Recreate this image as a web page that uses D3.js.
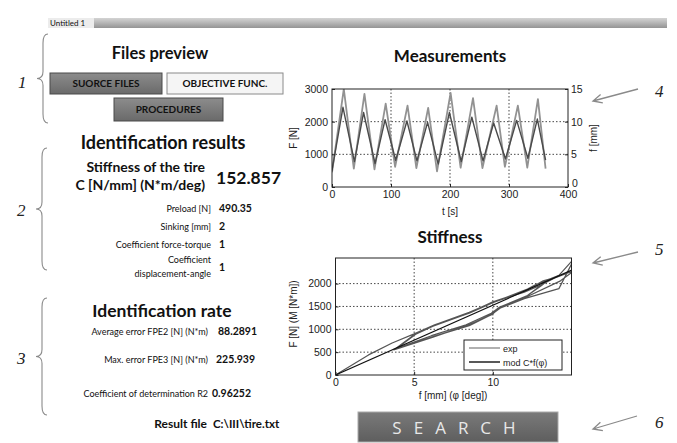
<!DOCTYPE html>
<html>
<head>
<meta charset="utf-8">
<title>Tire stiffness identification</title>
<script src="https://d3js.org/d3.v7.min.js"></script>
<style>
  body { margin: 0; background: #fff; }
  svg { display: block; }
  .ui { font-family: Lato, "Open Sans", sans-serif; fill: #111; }
  .tick text { font-family: "Liberation Sans", Arial, sans-serif; font-size: 10.5px; fill: #222; }
  .tick line { stroke: #222; }
</style>
</head>
<body>
<script>
// ---- data ----
// Measurements: force F [N] (left axis) and displacement f [mm] (right axis) vs time t [s]
var forceT = [0, 20, 37, 55, 72, 91, 107, 128, 143, 163, 178, 201, 218, 239, 255, 279, 293, 315, 331, 349, 362];
var forceF = [450, 3000, 560, 2850, 540, 2550, 620, 2490, 580, 2420, 480, 2880, 590, 2720, 580, 2490, 620, 2490, 590, 2690, 560];
var dispT = [0, 18.6, 38, 53.5, 73, 90, 108, 127, 144, 162, 180, 199, 219, 237, 256, 274, 294, 313, 332, 348, 362];
var dispF = [2.5, 12.2, 3.9, 11.4, 3.6, 10.3, 4.1, 10.1, 4.0, 9.9, 3.5, 11.4, 3.9, 10.7, 4.0, 9.8, 4.3, 10.2, 4.4, 10.4, 4.1];

// Stiffness: experimental hysteresis loops and model C*f
var expX = [0, 2.1, 3.6, 5.0, 6.3, 8.5, 10.0, 12.0, 12.9, 14.2, 15.2,
            14.2, 12.0, 10.4, 10.0, 8.5, 6.3, 3.7,
            5.0, 6.3, 8.5, 10.0, 12.1, 13.2, 13.6, 13.1, 12.0, 10.3, 10.0, 8.4, 6.2, 3.8,
            5.1, 6.4, 8.5, 10.0, 12.0, 13.0, 13.9, 15.2, 14.3, 12.1, 10.5, 9.9, 8.5, 6.3, 3.9,
            4.9, 6.2, 8.4, 10.1, 12.2, 12.8, 13.4, 12.9, 12.2, 10.4, 9.9, 8.3, 6.1, 3.7];
var expY = [0, 440, 700, 900, 1100, 1360, 1600, 1830, 2000, 2180, 2560,
            1890, 1670, 1455, 1340, 1100, 845, 550,
            880, 1090, 1350, 1580, 1850, 2060, 2100, 1960, 1690, 1460, 1330, 1090, 830, 560,
            890, 1110, 1370, 1590, 1810, 1960, 2120, 2290, 2060, 1700, 1470, 1320, 1080, 850, 570,
            860, 1070, 1340, 1600, 1880, 1990, 2040, 1920, 1740, 1480, 1350, 1100, 860, 560];
var modX = [0, 15.2];
var modY = [0, 2323];

var measXTicks = [0, 100, 200, 300, 400];
var measLTicks = [0, 1000, 2000, 3000];
var measRTicks = [0, 5, 10, 15];
var stifXTicks = [0, 5, 10];
var stifYTicks = [0, 500, 1000, 1500, 2000];

// panel texts
var buttons = ["SUORCE FILES", "OBJECTIVE FUNC.", "PROCEDURES"];
var resultLabels = ["Preload [N]", "Sinking [mm]", "Coefficient force-torque", "Coefficient\ndisplacement-angle"];
var resultValues = ["490.35", "2", "1", "1"];
var rateLabels = ["Average error FPE2 [N] (N*m)", "Max. error FPE3 [N] (N*m)", "Coefficient of determination R2"];
var rateValues = ["88.2891", "225.939", "0.96252"];
var stiffnessValue = "152.857";
var resultFile = "C:\\III\\tire.txt";

// ---- drawing ----
var svg = d3.select("body").append("svg").attr("width", 677).attr("height", 443);
var defs = svg.append("defs");

var g1 = defs.append("linearGradient").attr("id", "barGrad").attr("x1", 0).attr("x2", 0).attr("y1", 0).attr("y2", 1);
g1.append("stop").attr("offset", 0).attr("stop-color", "#d4d4d4");
g1.append("stop").attr("offset", 1).attr("stop-color", "#949494");
var g2 = defs.append("linearGradient").attr("id", "darkBtn").attr("x1", 0).attr("x2", 0).attr("y1", 0).attr("y2", 1);
g2.append("stop").attr("offset", 0).attr("stop-color", "#8c8c8c");
g2.append("stop").attr("offset", 1).attr("stop-color", "#6a6a6a");
var g3 = defs.append("linearGradient").attr("id", "searchBtn").attr("x1", 0).attr("x2", 0).attr("y1", 0).attr("y2", 1);
g3.append("stop").attr("offset", 0).attr("stop-color", "#7a7a7a");
g3.append("stop").attr("offset", 1).attr("stop-color", "#5e5e5e");

// title bar
svg.append("rect").attr("x", 48).attr("y", 18).attr("width", 619).attr("height", 10).attr("fill", "url(#barGrad)");
svg.append("rect").attr("x", 48).attr("y", 18).attr("width", 46).attr("height", 10).attr("fill", "#ececec");
svg.append("text").attr("class", "ui").attr("x", 50).attr("y", 26).attr("font-size", 8).text("Untitled 1");

// braces and section numbers
function brace(x, top, bottom) {
  var mid = (top + bottom) / 2;
  svg.append("path")
    .attr("d", "M" + (x + 5) + "," + top + " Q" + x + "," + top + " " + x + "," + (top + 9) +
      " L" + x + "," + (mid - 7) + " Q" + x + "," + mid + " " + (x - 6) + "," + mid +
      " Q" + x + "," + mid + " " + x + "," + (mid + 7) +
      " L" + x + "," + (bottom - 9) + " Q" + x + "," + bottom + " " + (x + 5) + "," + bottom)
    .attr("fill", "none").attr("stroke", "#8a8a8a").attr("stroke-width", 1.1);
}
brace(43, 34, 123); brace(42, 148, 270); brace(42, 298, 415);
function numLabel(x, y, s) {
  svg.append("text").attr("x", x).attr("y", y).attr("font-family", "Liberation Serif, serif")
    .attr("font-style", "italic").attr("font-size", 17).attr("fill", "#222").text(s);
}
numLabel(18, 88, "1"); numLabel(17, 216, "2"); numLabel(17, 364, "3");
numLabel(655, 97, "4"); numLabel(655, 255, "5"); numLabel(655, 428, "6");

// arrows
function arrow(x1, y1, x2, y2) {
  var a = Math.atan2(y2 - y1, x2 - x1), L = 10;
  svg.append("path")
    .attr("d", "M" + x1 + "," + y1 + " L" + x2 + "," + y2 +
      " M" + (x2 - L * Math.cos(a - 0.45)) + "," + (y2 - L * Math.sin(a - 0.45)) + " L" + x2 + "," + y2 +
      " L" + (x2 - L * Math.cos(a + 0.45)) + "," + (y2 - L * Math.sin(a + 0.45)))
    .attr("fill", "none").attr("stroke", "#8a8a8a").attr("stroke-width", 1.3);
}
arrow(638, 89, 593, 101); arrow(638, 252, 593, 263); arrow(637, 416, 593, 429);

// section 1: files preview
svg.append("text").attr("class", "ui").attr("x", 160).attr("y", 59).attr("text-anchor", "middle")
  .attr("font-size", 16.5).attr("font-weight", "bold").text("Files preview");
var btnBoxes = [[50, 73, 112, 21, "url(#darkBtn)"], [167, 73, 116, 21, "#f5f5f5"], [114, 98, 109, 23, "url(#darkBtn)"]];
btnBoxes.forEach(function (b, i) {
  svg.append("rect").attr("x", b[0]).attr("y", b[1]).attr("width", b[2]).attr("height", b[3])
    .attr("fill", b[4]).attr("stroke", i === 1 ? "#8a8a8a" : "#4a4a4a").attr("stroke-width", 1);
  svg.append("text").attr("class", "ui").attr("x", b[0] + b[2] / 2).attr("y", b[1] + b[3] / 2 + 3.5)
    .attr("text-anchor", "middle").attr("font-size", 10).attr("font-weight", "bold").text(buttons[i]);
});

// section 2: identification results
svg.append("text").attr("class", "ui").attr("x", 163).attr("y", 149).attr("text-anchor", "middle")
  .attr("font-size", 18).attr("font-weight", "bold").text("Identification results");
svg.append("text").attr("class", "ui").attr("x", 205).attr("y", 172).attr("text-anchor", "end")
  .attr("font-size", 14).attr("font-weight", "bold").text("Stiffness of the tire");
svg.append("text").attr("class", "ui").attr("x", 205).attr("y", 190).attr("text-anchor", "end")
  .attr("font-size", 14).attr("font-weight", "bold").text("C [N/mm] (N*m/deg)");
svg.append("text").attr("class", "ui").attr("x", 216).attr("y", 184)
  .attr("font-size", 17.5).attr("font-weight", "bold").text(stiffnessValue);
var resY = [212, 230, 248, 263];
resultLabels.forEach(function (s, i) {
  s.split("\n").forEach(function (part, j) {
    svg.append("text").attr("class", "ui").attr("x", 211).attr("y", resY[i] + j * 14)
      .attr("text-anchor", "end").attr("font-size", 9).attr("fill", "#444").text(part);
  });
  svg.append("text").attr("class", "ui").attr("x", 219).attr("y", resY[i] + (i === 3 ? 8 : 0))
    .attr("font-size", 10.5).attr("font-weight", "bold").text(resultValues[i]);
});

// section 3: identification rate
svg.append("text").attr("class", "ui").attr("x", 162).attr("y", 317).attr("text-anchor", "middle")
  .attr("font-size", 17.5).attr("font-weight", "bold").text("Identification rate");
var rateY = [335, 363, 397];
var rateX = [218, 216, 212];
rateLabels.forEach(function (s, i) {
  svg.append("text").attr("class", "ui").attr("x", 208).attr("y", rateY[i])
    .attr("text-anchor", "end").attr("font-size", 9).attr("fill", "#444").text(s);
  svg.append("text").attr("class", "ui").attr("x", rateX[i]).attr("y", rateY[i])
    .attr("font-size", 10.5).attr("font-weight", "bold").text(rateValues[i]);
});
svg.append("text").attr("class", "ui").attr("x", 207).attr("y", 428).attr("text-anchor", "end")
  .attr("font-size", 12).attr("font-weight", "bold").text("Result file");
svg.append("text").attr("class", "ui").attr("x", 213).attr("y", 428)
  .attr("font-size", 11.5).attr("font-weight", "bold").text(resultFile);

// ---- chart helpers ----
function dotted(g, x1, y1, x2, y2) {
  g.append("line").attr("x1", x1).attr("y1", y1).attr("x2", x2).attr("y2", y2)
    .attr("stroke", "#333").attr("stroke-width", 0.9).attr("stroke-dasharray", "1.5,2");
}
function cleanAxis(g) { g.select(".domain").remove(); }
function label(x, y, s, rot) {
  svg.append("text").attr("transform", "translate(" + x + "," + y + ")" + (rot ? " rotate(-90)" : ""))
    .attr("text-anchor", "middle").attr("font-family", "Liberation Sans, Arial, sans-serif")
    .attr("font-size", 10).attr("fill", "#222").text(s);
}
var fmt = d3.format("d");

// ---- Measurements chart ----
var mx = d3.scaleLinear().domain([0, 400]).range([332, 568]);
var myL = d3.scaleLinear().domain([0, 3000]).range([187, 89]);
var myR = d3.scaleLinear().domain([0, 15]).range([187, 89]);
var gm = svg.append("g");
svg.append("text").attr("class", "ui").attr("x", 450).attr("y", 62).attr("text-anchor", "middle")
  .attr("font-size", 17).attr("font-weight", "bold").text("Measurements");
[100, 200, 300].forEach(function (v) { dotted(gm, mx(v), 89, mx(v), 187); });
[1000, 2000].forEach(function (v) { dotted(gm, 332, myL(v), 568, myL(v)); });
svg.append("clipPath").attr("id", "clipM").append("rect").attr("x", 332).attr("y", 89).attr("width", 236).attr("height", 98);
var cm = gm.append("g").attr("clip-path", "url(#clipM)");
cm.append("path").datum(forceT.map(function (t, i) { return [t, forceF[i]]; }))
  .attr("d", d3.line().x(function (d) { return mx(d[0]); }).y(function (d) { return myL(d[1]); }))
  .attr("fill", "none").attr("stroke", "#929292").attr("stroke-width", 1.8).attr("stroke-linejoin", "round");
cm.append("path").datum(dispT.map(function (t, i) { return [t, dispF[i]]; }))
  .attr("d", d3.line().x(function (d) { return mx(d[0]); }).y(function (d) { return myR(d[1]); }))
  .attr("fill", "none").attr("stroke", "#4a4a4a").attr("stroke-width", 1.4).attr("stroke-linejoin", "round");
gm.append("rect").attr("x", 332).attr("y", 89).attr("width", 236).attr("height", 98)
  .attr("fill", "none").attr("stroke", "#222").attr("stroke-width", 1);
gm.append("g").attr("transform", "translate(0,187)")
  .call(d3.axisBottom(mx).tickValues(measXTicks).tickFormat(fmt).tickSize(-3).tickPadding(4)).call(cleanAxis);
gm.append("g").attr("transform", "translate(332,0)")
  .call(d3.axisLeft(myL).tickValues(measLTicks).tickFormat(fmt).tickSize(-3).tickPadding(4)).call(cleanAxis);
var rAx = gm.append("g").attr("transform", "translate(568,0)")
  .call(d3.axisRight(myR).tickValues(measRTicks).tickFormat(fmt).tickSize(-3).tickPadding(3)).call(cleanAxis);
rAx.selectAll(".tick text").filter(function (d) { return d === 0; }).attr("dy", "-0.05em").attr("x", 4);
label(450, 215, "t [s]");
label(297, 138, "F [N]", true);
label(597, 138, "f [mm]", true);

// ---- Stiffness chart ----
var sx = d3.scaleLinear().domain([0, 15]).range([335.5, 571.5]);
var sy = d3.scaleLinear().domain([0, 2560]).range([375, 258]);
var gs = svg.append("g");
svg.append("text").attr("class", "ui").attr("x", 450).attr("y", 243).attr("text-anchor", "middle")
  .attr("font-size", 17).attr("font-weight", "bold").text("Stiffness");
[5, 10].forEach(function (v) { dotted(gs, sx(v), 258, sx(v), 375); });
[500, 1000, 1500, 2000].forEach(function (v) { dotted(gs, 335.5, sy(v), 571.5, sy(v)); });
svg.append("clipPath").attr("id", "clipS").append("rect").attr("x", 335.5).attr("y", 258).attr("width", 236).attr("height", 117);
var cs = gs.append("g").attr("clip-path", "url(#clipS)");
var sline = d3.line().x(function (d) { return sx(d[0]); }).y(function (d) { return sy(d[1]); });
cs.append("path").datum(expX.map(function (v, i) { return [v, expY[i]]; })).attr("d", sline)
  .attr("fill", "none").attr("stroke", "#555").attr("stroke-width", 1.2).attr("stroke-linejoin", "round");
cs.append("path").datum(modX.map(function (v, i) { return [v, modY[i]]; })).attr("d", sline)
  .attr("fill", "none").attr("stroke", "#111").attr("stroke-width", 1.2);
gs.append("rect").attr("x", 335.5).attr("y", 258).attr("width", 236).attr("height", 117)
  .attr("fill", "none").attr("stroke", "#222").attr("stroke-width", 1);
gs.append("g").attr("transform", "translate(0,375)")
  .call(d3.axisBottom(sx).tickValues(stifXTicks).tickFormat(fmt).tickSize(-3).tickPadding(4)).call(cleanAxis);
gs.append("g").attr("transform", "translate(335.5,0)")
  .call(d3.axisLeft(sy).tickValues(stifYTicks).tickFormat(fmt).tickSize(-3).tickPadding(4)).call(cleanAxis);
label(453, 399, "f [mm] (\u03c6 [deg])");
label(297, 314, "F [N] (M [N*m])", true);

// legend
var lg = gs.append("g");
lg.append("rect").attr("x", 464).attr("y", 340).attr("width", 98).attr("height", 30)
  .attr("fill", "#fff").attr("stroke", "#222").attr("stroke-width", 1);
var legendItems = [["exp", "#8e8e8e"], ["mod C*f(\u03c6)", "#111"]];
legendItems.forEach(function (it, i) {
  var y = 348 + i * 14;
  lg.append("line").attr("x1", 469).attr("x2", 500).attr("y1", y).attr("y2", y)
    .attr("stroke", it[1]).attr("stroke-width", 1.4);
  lg.append("text").attr("x", 503).attr("y", y + 3.5).attr("font-family", "Liberation Sans, Arial, sans-serif")
    .attr("font-size", 9).attr("fill", "#222").text(it[0]);
});

// SEARCH button
svg.append("rect").attr("x", 358).attr("y", 412).attr("width", 200).attr("height", 30)
  .attr("fill", "url(#searchBtn)").attr("stroke", "#aaa").attr("stroke-width", 1);
svg.append("text").attr("x", 460).attr("y", 434).attr("text-anchor", "middle")
  .attr("font-family", "Open Sans, Lato, sans-serif").attr("font-size", 17).attr("letter-spacing", 12)
  .attr("fill", "#e8e8e8").text("SEARCH");
</script>
</body>
</html>
